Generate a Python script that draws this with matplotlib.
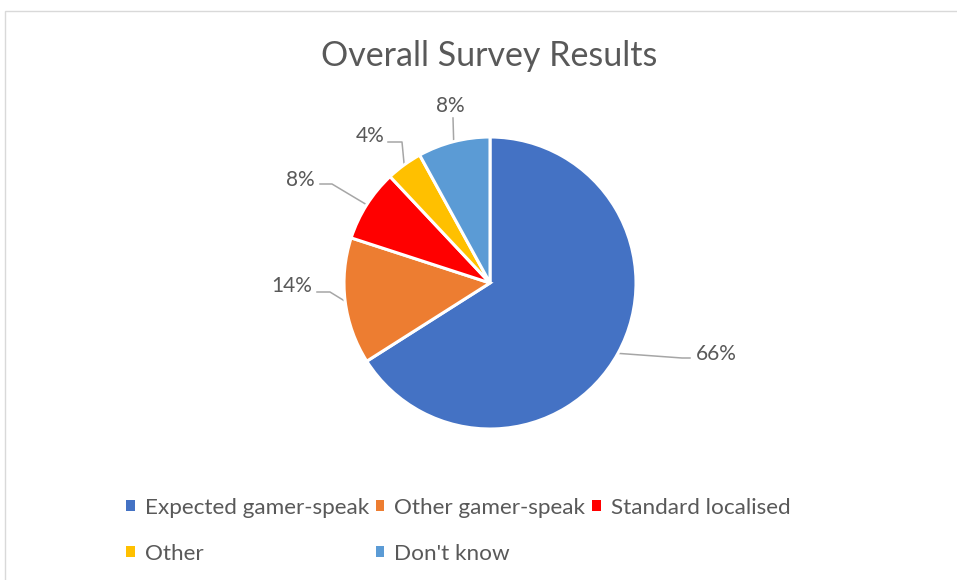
import numpy as np
import matplotlib
matplotlib.use("Agg")
import matplotlib.pyplot as plt
from matplotlib.patches import Rectangle

categories = ["Expected gamer-speak", "Other gamer-speak", "Standard localised", "Other", "Don't know"]
shares = [66, 14, 8, 4, 8]
colors = ["#4472C4", "#ED7D31", "#FF0000", "#FFC000", "#5B9BD5"]

# label text centre, elbow and line end (pixels, y from top)
label_layout = [
    ((716, 354), (682, 358), (690, 358)),
    ((292, 286), (330, 292), (317, 292)),
    ((300, 180), (332, 184), (320, 184)),
    ((370, 136), (402, 142), (388, 142)),
    ((450, 106), (453, 118), (453, 118)),
]

plt.rcParams['font.family'] = ['Lato', 'DejaVu Sans']
TXT = "#595959"

W, H = 957, 580
cx, cy, r = 490, 283, 146

fig = plt.figure(figsize=(W / 100, H / 100), dpi=100)
fig.patch.set_facecolor("white")

# light chart border
fig.patches.append(Rectangle((5 / W, -0.05), 1.1, 1 - 11 / H + 0.05, transform=fig.transFigure,
                             fill=False, edgecolor="#D9D9D9", linewidth=1, clip_on=False))

ax = fig.add_axes([(cx - r) / W, (H - cy - r) / H, 2 * r / W, 2 * r / H])
wedges, _ = ax.pie(shares, colors=colors, startangle=90, counterclock=False,
                   wedgeprops=dict(edgecolor="white", linewidth=2.2))
ax.set_xlim(-1, 1)
ax.set_ylim(-1, 1)
ax.set_aspect("equal")


def px(p):
    return ((p[0] - cx) / r, (cy - p[1]) / r)


for w, val, (tpos, elbow, end) in zip(wedges, shares, label_layout):
    ang = np.deg2rad((w.theta1 + w.theta2) / 2)
    edge = (np.cos(ang), np.sin(ang))
    e = px(elbow)
    n = px(end)
    ax.plot([edge[0], e[0], n[0]], [edge[1], e[1], n[1]], color="#A6A6A6",
            linewidth=1.1, clip_on=False, zorder=0)
    t = px(tpos)
    ax.text(t[0], t[1], f"{val}%", ha="center", va="center", fontsize=15,
            color=TXT, clip_on=False)

fig.text(489 / W, 1 - 56 / H, "Overall Survey Results", ha="center", va="center",
         fontsize=24.5, color=TXT)

handles = [Rectangle((0, 0), 1, 1, facecolor=c, edgecolor="none") for c in colors]
order = [0, 3, 1, 4, 2]
leg = fig.legend([handles[i] for i in order], [categories[i] for i in order],
                 ncol=3, loc="upper left", bbox_to_anchor=(126 / W, 1 - 498 / H),
                 frameon=False, fontsize=16.2, handlelength=0.38, handleheight=0.38,
                 handletextpad=0.45, columnspacing=0.3, labelspacing=1.15,
                 borderaxespad=0, borderpad=0)
for t in leg.get_texts():
    t.set_color(TXT)

fig.savefig("out.png", dpi=100, facecolor="white")
